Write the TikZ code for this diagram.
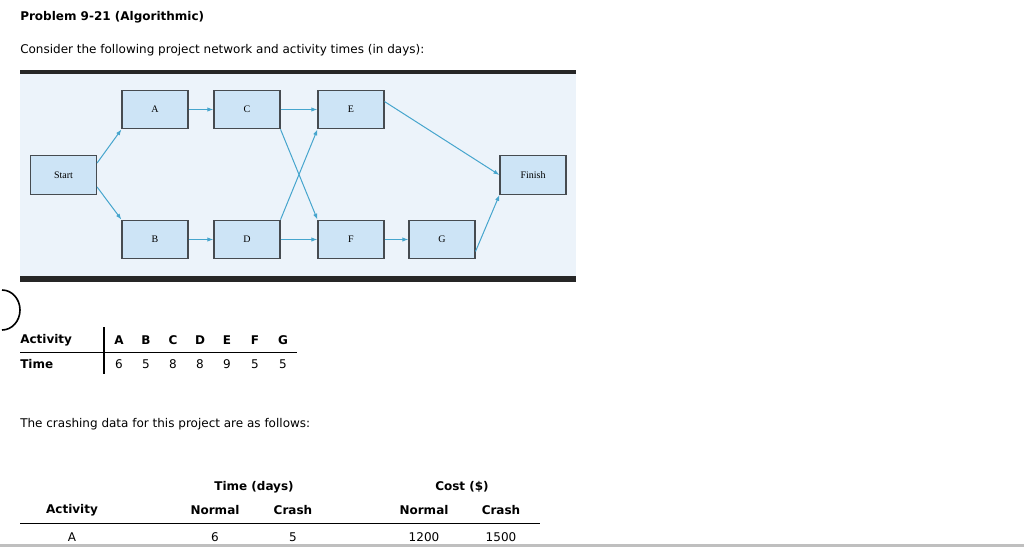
\documentclass[tikz,border=0pt]{standalone}
\usepackage{fontspec}
\setmainfont{DejaVu Sans}
\newfontfamily\serif{Liberation Serif}
\usetikzlibrary{calc,arrows.meta}
\definecolor{boxfill}{RGB}{205,228,246}
\definecolor{panel}{RGB}{236,243,250}
\definecolor{arr}{RGB}{70,165,205}
\definecolor{boxline}{RGB}{70,75,80}
\tikzset{
 box/.style={draw=boxline,fill=boxfill,line width=0.8pt,minimum width=49.5pt,minimum height=29pt,inner sep=0pt,font=\serif\fontsize{7.5}{8}\selectfont},
 con/.style={draw=arr,line width=0.75pt,-{Latex[length=4.5pt,width=3.2pt]}},
 txt/.style={anchor=west,inner sep=0pt,font=\fontsize{9}{11}\selectfont},
 bt/.style={inner sep=0pt,font=\bfseries\fontsize{9}{11}\selectfont},
 nt/.style={inner sep=0pt,font=\fontsize{9}{11}\selectfont}
}
\begin{document}
\begin{tikzpicture}[x=0.75pt,y=-0.75pt]
\useasboundingbox (0,0) rectangle (1024,547);
\fill[white] (0,0) rectangle (1024,547);
\node[txt,font=\bfseries\fontsize{9}{11}\selectfont] (title) at (20,17) {Problem 9-21 (Algorithmic)};
\node[txt] (intro) at (20,50) {Consider the following project network and activity times (in days):};
% panel
\fill[panel] (20,73) rectangle (576,276);
\fill[black!85] (20,70) rectangle (576,74);
\fill[black!85] (20,276) rectangle (576,282);
\node[box] (S) at (63.5,175) {Start};
\node[box] (A) at (155,109.5) {A};
\node[box] (C) at (247,109.5) {C};
\node[box] (E) at (351,109.5) {E};
\node[box] (Fi) at (533,175) {Finish};
\node[box] (B) at (155,239.5) {B};
\node[box] (D) at (247,239.5) {D};
\node[box] (F) at (351,239.5) {F};
\node[box] (G) at (442,239.5) {G};
\draw[con] ($(S.north east)!0.2!(S.south east)$) -- (A.south west);
\draw[con] ($(S.north east)!0.8!(S.south east)$) -- (B.north west);
\draw[con] (A) -- (C);
\draw[con] (C) -- (E);
\draw[con] (B) -- (D);
\draw[con] (D) -- (F);
\draw[con] (F) -- (G);
\draw[con] (C.south east) -- (F.north west);
\draw[con] (D.north east) -- (E.south west);
\draw[con] ($(E.north east)!0.3!(E.south east)$) -- ($(Fi.north west)!0.5!(Fi.south west)$);
\draw[con] ($(G.north east)!0.8!(G.south east)$) -- (Fi.south west);
% circle arc
\draw[line width=1.2pt] (2,330) arc[start angle=90,end angle=-90,x radius=18,y radius=20];
% table 1
\node[bt,anchor=west] (act) at (20,340) {Activity};
\node[bt,anchor=west] (tim) at (20,364) {Time};
\draw[line width=1pt] (104,327) -- (104,374);
\draw[line width=0.6pt] (20,352) -- (297,352);
\foreach \l/\t/\x in {A/6/119,B/5/146,C/8/173,D/8/200,E/9/227,F/5/255,G/5/283}{
 \node[bt] (h\l) at (\x,340) {\l};
 \node[nt] (v\l) at (\x,364) {\t};
}
\node[txt] (crash) at (20,424) {The crashing data for this project are as follows:};
% table 2
\node[bt] (td) at (254,487) {Time (days)};
\node[bt] (cd) at (462,487) {Cost (\$)};
\node[bt] (a2) at (72,510) {Activity};
\node[bt] (n1) at (215,510) {Normal};
\node[bt] (c1) at (293,510) {Crash};
\node[bt] (n2) at (424,510) {Normal};
\node[bt] (c2) at (501,510) {Crash};
\draw[line width=0.6pt] (20,523) -- (540,523);
\node[nt] (ra) at (72,537) {A};
\node[nt] (r1) at (215,537) {6};
\node[nt] (r2) at (293,537) {5};
\node[nt] (r3) at (424,537) {1200};
\node[nt] (r4) at (501,537) {1500};
\fill[black!25] (0,544) rectangle (1024,547);
\end{tikzpicture}
\end{document}
